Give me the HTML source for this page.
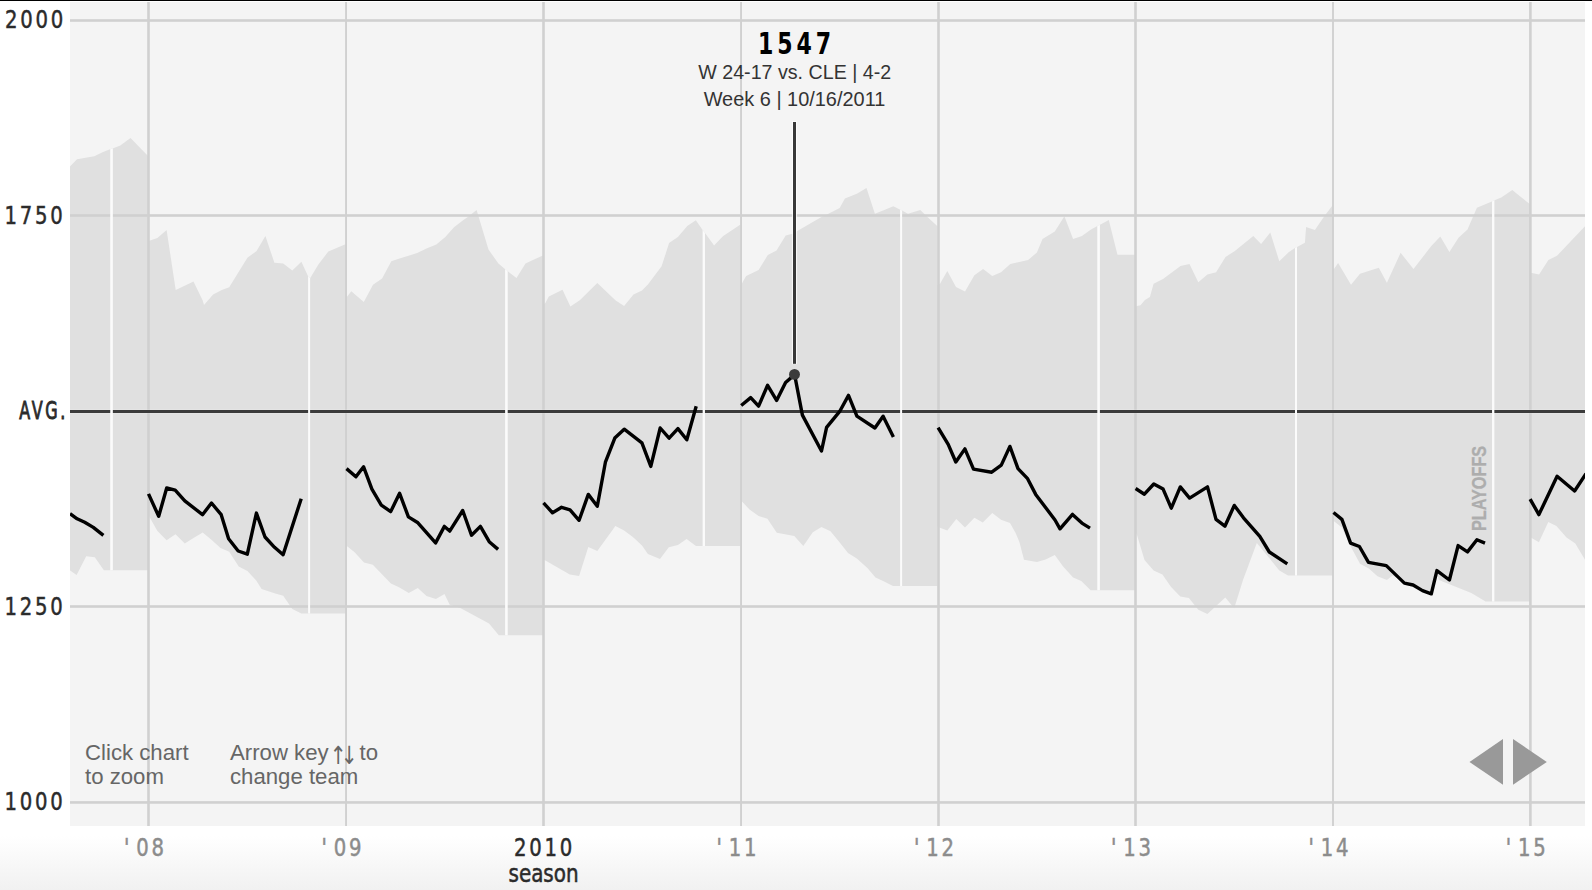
<!DOCTYPE html>
<html><head><meta charset="utf-8"><title>Elo chart</title>
<style>
html,body{margin:0;padding:0;background:#fff;}
body{width:1592px;height:890px;overflow:hidden;position:relative;}
svg{position:absolute;left:0;top:0;display:block;}
.mono{font-family:"DejaVu Sans Condensed","DejaVu Sans","Liberation Sans",sans-serif;font-stretch:condensed;}
.sans{font-family:"Liberation Sans","DejaVu Sans",sans-serif;}
</style></head>
<body>
<svg width="1592" height="890" viewBox="0 0 1592 890">
<defs>
<linearGradient id="fade" x1="0" y1="0" x2="0" y2="1"><stop offset="0" stop-color="#ffffff"/><stop offset="1" stop-color="#f1f1f1"/></linearGradient>
<clipPath id="chart"><rect x="70" y="2" width="1515" height="824"/></clipPath>
<clipPath id="c2007"><polygon points="70,166.4 77,159.3 94.3,156.3 103,151.9 110,149.3 113.2,148.2 120.3,145.6 130.5,138.1 148,156 148,570.3 103.9,570.3 94.8,557.2 86.2,556.2 76.6,574.9 70.5,570.8 70,570.5"/></clipPath><clipPath id="c2008"><polygon points="147.5,241 150.1,240.4 157.4,238.1 166.6,229.9 175.7,290 193.5,281.5 202.7,300.4 204,305.1 213.1,294.4 221.8,290 229.2,287.3 247.4,257.7 256.6,251 265.4,236.1 274.4,262.7 283.2,263.6 292.3,270.5 301.4,261.7 308.1,276.2 310.1,278.2 318.2,264.7 328.3,251.5 346,244 346,613.5 301.4,613.5 292.3,609.1 283.2,595.7 274.4,593.3 261.6,588.9 256.2,580.4 247.4,570.9 238.7,566.6 229.2,551.8 220.5,548.1 211.7,539.9 202.7,532.6 193.5,538 184.8,543.4 175.5,534.3 166.6,540.3 157.4,530.9 150.1,518.1 147.5,514"/></clipPath><clipPath id="c2009"><polygon points="345,297.5 346.8,296.9 351.3,291.3 363.8,301.9 373,284.8 382.1,278.5 391.3,261.3 400.3,258.3 417.1,253.1 426.5,248.5 436.3,244.5 445.3,237 454,227.3 463.4,220 467.1,217.5 476.6,210.1 478.7,216.9 488.5,249.5 498.4,263.5 504.6,268.8 507.8,271.3 516.5,278.1 525.5,263.5 534,259.4 543.5,255.3 543.5,635.2 498.8,635.2 489,623.6 460.3,607.9 449.7,604.8 444.5,594 435.9,599 426.5,596 417.8,588.1 408.8,593.1 399,587.3 390.9,583.5 372.8,564.8 364,562.5 354.6,552.3 346.8,546 345,545"/></clipPath><clipPath id="c2010"><polygon points="542.5,306 545.4,303.1 548.8,296.5 562.5,289.8 570.4,306.5 579.8,300.3 597.3,283.1 615.4,300.3 624.1,306 633.5,294.4 642,290.6 647.9,284.4 661.6,266.3 669.1,243.1 677.9,236.9 687.3,226 695.8,220.3 702.3,229.4 705,233.1 714.1,245.6 722.9,236.3 740.5,224.4 740.5,546 696,546 686.6,539 677.9,545 668.8,547.3 660,559 647.9,554 642,545.6 632.9,536.9 624.1,530.6 615.4,526 597.3,551 588.3,546.9 579.1,576 569.8,574.4 545.4,560.6 542.5,559"/></clipPath><clipPath id="c2011"><polygon points="740,285.5 741.8,283.8 746.1,276 758.6,270 767.8,255 776.5,250.6 785.7,235.4 792.5,233.7 796.4,231.5 820.6,217.4 827.9,214 839.7,208.1 844.9,198.5 856.8,193.8 866.5,188.1 874.9,213.8 884.3,210 893.3,206.3 899.9,209.4 902,210.6 908,213.8 920.3,210 928,217.5 937.5,226.3 937.5,586 893,586 883.6,581.3 875.5,577.5 867.4,568.1 856.8,558.5 848,553.1 839.3,541.9 830.5,531.3 821.5,526.9 812.8,532.3 803.3,546 794.3,536 776.8,532.8 767.4,518.8 758.6,516 749.5,509.4 742,501.5 740,499.5"/></clipPath><clipPath id="c2012"><polygon points="937,285 940,283.8 947.3,271 956,286.9 965,291.5 974.4,275.3 983.1,269 992.3,276 1001,272.3 1010.3,264 1028.1,260 1036.9,252.5 1042.5,239 1054.8,231.5 1064.4,216.3 1073.1,239 1081.9,236 1090.6,229.8 1097.3,226 1100,224.8 1108.8,220 1117.5,254.8 1135.5,254.8 1135.5,590.3 1090.6,590.3 1081.3,581 1073.1,577.5 1063.1,566.5 1054.8,555 1045.6,559.4 1036.9,561.9 1024,559.8 1019.4,541.9 1015.6,533.1 1010,523.1 1001,519.8 992.3,513.1 982.8,522.5 974.4,517.8 965,527.5 956.3,519 947.3,530.6 940,527.8 937,526.5"/></clipPath><clipPath id="c2013"><polygon points="1135,306.5 1137,306 1140.5,305.3 1144.9,300 1149.9,296.9 1153.6,283.8 1163,279 1180.5,266 1189.5,264 1198.3,282.3 1207.4,274.4 1216.1,272.3 1225.5,256.9 1234.5,251.3 1253.3,236 1261.1,244 1270.3,232.5 1279.3,261.3 1288.6,252.3 1294.9,248.1 1297,246.9 1304.9,242.8 1306.1,226.9 1314.9,230 1324.3,216.3 1332.8,205 1332.8,575.6 1288,575.6 1279.3,570.6 1269.9,558.8 1256.8,543.1 1243,580 1234.2,608.3 1225.3,597.4 1207.4,613.9 1198.3,609.8 1188.9,598 1180.3,596.4 1171.1,586.9 1162.4,574.4 1153.6,570.6 1144.5,560 1137,535 1135,532"/></clipPath><clipPath id="c2014"><polygon points="1332.2,269.5 1334,269 1338.1,263.1 1351,284.8 1360,273.8 1378.8,267.8 1386.9,282.8 1400.6,252.8 1413.5,269 1431.3,246 1440.3,236.5 1449.4,251.9 1458.5,237.8 1467.5,229.4 1476.9,207.8 1491.9,201.5 1494.4,200.3 1501.3,197.5 1512.3,190 1520,196.2 1530,204.2 1530,601.5 1485.6,601.5 1471.3,593.1 1458.8,588.1 1438.8,580 1436.9,572 1431.3,592.3 1422.5,589 1413.1,583.5 1404.4,581.5 1392.5,575.6 1386.9,580 1377.5,576.3 1368.8,568.5 1360,563.8 1350.6,546.3 1341.9,527.5 1334,521.3 1332.2,519.5"/></clipPath><clipPath id="c2015"><polygon points="1529.5,273 1532,273 1539.1,274.6 1548.4,260.1 1557,255.7 1574.3,237.5 1586,225.2 1586,561.5 1575.3,543.6 1566.5,537.5 1556.4,526.1 1548.3,522 1538.9,542.2 1532.1,538.2 1529.5,536.5"/></clipPath>
</defs>
<rect x="0" y="0" width="1592" height="1" fill="#000"/>
<rect x="0" y="836" width="1592" height="54" fill="url(#fade)"/>
<rect x="70" y="2" width="1515" height="824" fill="#f4f4f4"/>
<g clip-path="url(#chart)">
<g fill="#e0e0e0"><polygon points="70,166.4 77,159.3 94.3,156.3 103,151.9 110,149.3 113.2,148.2 120.3,145.6 130.5,138.1 148,156 148,570.3 103.9,570.3 94.8,557.2 86.2,556.2 76.6,574.9 70.5,570.8 70,570.5"/><polygon points="147.5,241 150.1,240.4 157.4,238.1 166.6,229.9 175.7,290 193.5,281.5 202.7,300.4 204,305.1 213.1,294.4 221.8,290 229.2,287.3 247.4,257.7 256.6,251 265.4,236.1 274.4,262.7 283.2,263.6 292.3,270.5 301.4,261.7 308.1,276.2 310.1,278.2 318.2,264.7 328.3,251.5 346,244 346,613.5 301.4,613.5 292.3,609.1 283.2,595.7 274.4,593.3 261.6,588.9 256.2,580.4 247.4,570.9 238.7,566.6 229.2,551.8 220.5,548.1 211.7,539.9 202.7,532.6 193.5,538 184.8,543.4 175.5,534.3 166.6,540.3 157.4,530.9 150.1,518.1 147.5,514"/><polygon points="345,297.5 346.8,296.9 351.3,291.3 363.8,301.9 373,284.8 382.1,278.5 391.3,261.3 400.3,258.3 417.1,253.1 426.5,248.5 436.3,244.5 445.3,237 454,227.3 463.4,220 467.1,217.5 476.6,210.1 478.7,216.9 488.5,249.5 498.4,263.5 504.6,268.8 507.8,271.3 516.5,278.1 525.5,263.5 534,259.4 543.5,255.3 543.5,635.2 498.8,635.2 489,623.6 460.3,607.9 449.7,604.8 444.5,594 435.9,599 426.5,596 417.8,588.1 408.8,593.1 399,587.3 390.9,583.5 372.8,564.8 364,562.5 354.6,552.3 346.8,546 345,545"/><polygon points="542.5,306 545.4,303.1 548.8,296.5 562.5,289.8 570.4,306.5 579.8,300.3 597.3,283.1 615.4,300.3 624.1,306 633.5,294.4 642,290.6 647.9,284.4 661.6,266.3 669.1,243.1 677.9,236.9 687.3,226 695.8,220.3 702.3,229.4 705,233.1 714.1,245.6 722.9,236.3 740.5,224.4 740.5,546 696,546 686.6,539 677.9,545 668.8,547.3 660,559 647.9,554 642,545.6 632.9,536.9 624.1,530.6 615.4,526 597.3,551 588.3,546.9 579.1,576 569.8,574.4 545.4,560.6 542.5,559"/><polygon points="740,285.5 741.8,283.8 746.1,276 758.6,270 767.8,255 776.5,250.6 785.7,235.4 792.5,233.7 796.4,231.5 820.6,217.4 827.9,214 839.7,208.1 844.9,198.5 856.8,193.8 866.5,188.1 874.9,213.8 884.3,210 893.3,206.3 899.9,209.4 902,210.6 908,213.8 920.3,210 928,217.5 937.5,226.3 937.5,586 893,586 883.6,581.3 875.5,577.5 867.4,568.1 856.8,558.5 848,553.1 839.3,541.9 830.5,531.3 821.5,526.9 812.8,532.3 803.3,546 794.3,536 776.8,532.8 767.4,518.8 758.6,516 749.5,509.4 742,501.5 740,499.5"/><polygon points="937,285 940,283.8 947.3,271 956,286.9 965,291.5 974.4,275.3 983.1,269 992.3,276 1001,272.3 1010.3,264 1028.1,260 1036.9,252.5 1042.5,239 1054.8,231.5 1064.4,216.3 1073.1,239 1081.9,236 1090.6,229.8 1097.3,226 1100,224.8 1108.8,220 1117.5,254.8 1135.5,254.8 1135.5,590.3 1090.6,590.3 1081.3,581 1073.1,577.5 1063.1,566.5 1054.8,555 1045.6,559.4 1036.9,561.9 1024,559.8 1019.4,541.9 1015.6,533.1 1010,523.1 1001,519.8 992.3,513.1 982.8,522.5 974.4,517.8 965,527.5 956.3,519 947.3,530.6 940,527.8 937,526.5"/><polygon points="1135,306.5 1137,306 1140.5,305.3 1144.9,300 1149.9,296.9 1153.6,283.8 1163,279 1180.5,266 1189.5,264 1198.3,282.3 1207.4,274.4 1216.1,272.3 1225.5,256.9 1234.5,251.3 1253.3,236 1261.1,244 1270.3,232.5 1279.3,261.3 1288.6,252.3 1294.9,248.1 1297,246.9 1304.9,242.8 1306.1,226.9 1314.9,230 1324.3,216.3 1332.8,205 1332.8,575.6 1288,575.6 1279.3,570.6 1269.9,558.8 1256.8,543.1 1243,580 1234.2,608.3 1225.3,597.4 1207.4,613.9 1198.3,609.8 1188.9,598 1180.3,596.4 1171.1,586.9 1162.4,574.4 1153.6,570.6 1144.5,560 1137,535 1135,532"/><polygon points="1332.2,269.5 1334,269 1338.1,263.1 1351,284.8 1360,273.8 1378.8,267.8 1386.9,282.8 1400.6,252.8 1413.5,269 1431.3,246 1440.3,236.5 1449.4,251.9 1458.5,237.8 1467.5,229.4 1476.9,207.8 1491.9,201.5 1494.4,200.3 1501.3,197.5 1512.3,190 1520,196.2 1530,204.2 1530,601.5 1485.6,601.5 1471.3,593.1 1458.8,588.1 1438.8,580 1436.9,572 1431.3,592.3 1422.5,589 1413.1,583.5 1404.4,581.5 1392.5,575.6 1386.9,580 1377.5,576.3 1368.8,568.5 1360,563.8 1350.6,546.3 1341.9,527.5 1334,521.3 1332.2,519.5"/><polygon points="1529.5,273 1532,273 1539.1,274.6 1548.4,260.1 1557,255.7 1574.3,237.5 1586,225.2 1586,561.5 1575.3,543.6 1566.5,537.5 1556.4,526.1 1548.3,522 1538.9,542.2 1532.1,538.2 1529.5,536.5"/></g>
<g fill="#d0d0d0"><rect x="147.2" y="2" width="2.6" height="824"/><rect x="345.1" y="2" width="1.9" height="824"/><rect x="542.2" y="2" width="2.6" height="824"/><rect x="740.1" y="2" width="1.9" height="824"/><rect x="937.2" y="2" width="2.6" height="824"/><rect x="1134.2" y="2" width="2.6" height="824"/><rect x="1332.05" y="2" width="1.9" height="824"/><rect x="1529.1" y="2" width="2.6" height="824"/><rect x="70" y="19.2" width="1515" height="2.6"/><rect x="70" y="214.2" width="1515" height="2.6"/><rect x="70" y="605.2" width="1515" height="2.6"/><rect x="70" y="801.15" width="1515" height="2.6"/></g>
<rect x="70" y="409" width="1515" height="5" fill="#fff" fill-opacity="0.15"/>
<rect x="70" y="410" width="1515" height="3" fill="#3b3b3b"/>
<g fill="#fbfbfb"><rect x="110.25" y="0" width="2.6" height="890" clip-path="url(#c2007)"/><rect x="308.1" y="0" width="2" height="890" clip-path="url(#c2008)"/><rect x="505.1" y="0" width="2.6" height="890" clip-path="url(#c2009)"/><rect x="702.65" y="0" width="2.3" height="890" clip-path="url(#c2010)"/><rect x="900.1" y="0" width="2" height="890" clip-path="url(#c2011)"/><rect x="1097.3" y="0" width="2.6" height="890" clip-path="url(#c2012)"/><rect x="1295" y="0" width="2" height="890" clip-path="url(#c2013)"/><rect x="1492.05" y="0" width="2.3" height="890" clip-path="url(#c2014)"/></g>
<g fill="none" stroke="#000" stroke-width="3.4" stroke-linejoin="round"><polyline points="70,513.7 77.1,518.8 84.7,522.3 93.3,527.4 103.4,535.4"/><polyline points="148.5,493.9 158.7,516.3 166.7,488 175.2,490.1 184.8,500.8 202.5,514.7 211.5,503 221.2,514.7 228.6,538.7 238.2,551 247.3,554.2 256.4,513.1 265,537 274.5,547.3 283.1,554.7 301.2,498.7"/><polyline points="346.5,468.6 355.9,476.8 363.6,466.8 371.9,489.2 381.3,505.1 390.7,511.6 399.6,493.3 408.4,516.9 417.9,522.8 435.6,542.9 444.4,526.4 449.7,531.1 462.7,510.5 471.5,535.2 480.4,526.4 489.2,541.7 498.1,549.4"/><polyline points="543.5,502.8 552.5,512.8 561.6,507.3 570,509.8 579.1,520.3 588.3,494.4 597.3,506.3 605.4,462.2 614.8,438.1 624.2,429.2 641.9,442.8 650.8,466.4 660.2,428 669.1,438.1 677.9,428.6 686.8,439.8 696.2,406.2"/><polyline points="741.2,405.5 750.7,397.6 758.6,406.1 767.6,385.3 776.6,400.4 785.6,382.5 794.6,374.6 802.4,415.1 821.5,451 826.6,427.4 839.5,411.7 848.5,395.4 856.9,416.2 874.9,428 883.1,416.2 893.4,437"/><polyline points="938.1,427.6 948.2,444.3 955.8,462 964.9,448.9 973.5,469.1 991.7,472.2 1001.3,465.1 1009.9,446.4 1018,468.6 1027.6,478.7 1035.7,494.4 1055,520 1060,528.8 1072.5,514.4 1081.9,523.1 1090,528.1"/><polyline points="1135.6,488.5 1144.4,494.2 1153.8,484 1163.1,489.1 1171.3,508.2 1180.3,486.9 1189.6,498.1 1207.5,486.9 1216,519.4 1224.9,526.2 1234.3,505.4 1243.5,517.8 1259.8,536.3 1269.3,552 1287.3,563.8"/><polyline points="1333.5,512.5 1341.9,519.4 1350.6,543.1 1359.4,546.5 1368.5,562.3 1386.3,565.6 1404.4,583.1 1413.1,585 1422.5,590.6 1431.3,593.8 1436.9,570.6 1449.4,580 1458.1,545.6 1467.5,551.9 1476.9,539.8 1485,543.1"/><polyline points="1530.1,499.1 1538.9,514.6 1557.1,476.2 1574.6,491 1586,473.6"/></g>
<rect x="791.9" y="121" width="5.2" height="243.2" fill="#fff" fill-opacity="0.75"/>
<rect x="793" y="122" width="3" height="241.8" fill="#383838"/>
<circle cx="794.5" cy="374.4" r="5.45" fill="#3b3b3b"/>
<text class="sans" transform="translate(1479.1,488.45) rotate(-90) scale(0.835,1)" font-size="19.5" font-weight="bold" fill="#adadad" stroke="#adadad" stroke-width="0.3" text-anchor="middle" dominant-baseline="central">PLAYOFFS</text>
</g>
<text class="mono" transform="translate(5,28) scale(0.86,1)" font-size="25.4" letter-spacing="3.2" font-weight="normal" fill="#2b2b2b" stroke="#2b2b2b" stroke-width="0.5">2000</text>
<text class="mono" transform="translate(4.5,224) scale(0.86,1)" font-size="25.4" letter-spacing="3.2" font-weight="normal" fill="#2b2b2b" stroke="#2b2b2b" stroke-width="0.5">1750</text>
<text class="mono" transform="translate(19.3,419) scale(0.7,1)" font-size="25.4" letter-spacing="3.7" font-weight="normal" fill="#2b2b2b" stroke="#2b2b2b" stroke-width="0.9">AVG.</text>
<text class="mono" transform="translate(4.5,614.9) scale(0.86,1)" font-size="25.4" letter-spacing="3.2" font-weight="normal" fill="#2b2b2b" stroke="#2b2b2b" stroke-width="0.5">1250</text>
<text class="mono" transform="translate(4.5,810) scale(0.86,1)" font-size="25.4" letter-spacing="3.2" font-weight="normal" fill="#2b2b2b" stroke="#2b2b2b" stroke-width="0.5">1000</text>
<text class="mono" transform="translate(123.9,856) scale(0.86,1)" font-size="25.4" letter-spacing="3.2" font-weight="normal" fill="#8c8c8c" stroke="#8c8c8c" stroke-width="0.5">&#39;</text>
<text class="mono" transform="translate(136.2,856) scale(0.86,1)" font-size="25.4" letter-spacing="3.2" font-weight="normal" fill="#8c8c8c" stroke="#8c8c8c" stroke-width="0.5">08</text>
<text class="mono" transform="translate(321.45,856) scale(0.86,1)" font-size="25.4" letter-spacing="3.2" font-weight="normal" fill="#8c8c8c" stroke="#8c8c8c" stroke-width="0.5">&#39;</text>
<text class="mono" transform="translate(333.75,856) scale(0.86,1)" font-size="25.4" letter-spacing="3.2" font-weight="normal" fill="#8c8c8c" stroke="#8c8c8c" stroke-width="0.5">09</text>
<text class="mono" transform="translate(514,856) scale(0.86,1)" font-size="25.4" letter-spacing="3.2" font-weight="normal" fill="#2b2b2b" stroke="#2b2b2b" stroke-width="0.5">2010</text>
<text class="mono" transform="translate(716.45,856) scale(0.86,1)" font-size="25.4" letter-spacing="3.2" font-weight="normal" fill="#8c8c8c" stroke="#8c8c8c" stroke-width="0.5">&#39;</text>
<text class="mono" transform="translate(728.75,856) scale(0.86,1)" font-size="25.4" letter-spacing="3.2" font-weight="normal" fill="#8c8c8c" stroke="#8c8c8c" stroke-width="0.5">11</text>
<text class="mono" transform="translate(913.9,856) scale(0.86,1)" font-size="25.4" letter-spacing="3.2" font-weight="normal" fill="#8c8c8c" stroke="#8c8c8c" stroke-width="0.5">&#39;</text>
<text class="mono" transform="translate(926.2,856) scale(0.86,1)" font-size="25.4" letter-spacing="3.2" font-weight="normal" fill="#8c8c8c" stroke="#8c8c8c" stroke-width="0.5">12</text>
<text class="mono" transform="translate(1110.9,856) scale(0.86,1)" font-size="25.4" letter-spacing="3.2" font-weight="normal" fill="#8c8c8c" stroke="#8c8c8c" stroke-width="0.5">&#39;</text>
<text class="mono" transform="translate(1123.2,856) scale(0.86,1)" font-size="25.4" letter-spacing="3.2" font-weight="normal" fill="#8c8c8c" stroke="#8c8c8c" stroke-width="0.5">13</text>
<text class="mono" transform="translate(1308.4,856) scale(0.86,1)" font-size="25.4" letter-spacing="3.2" font-weight="normal" fill="#8c8c8c" stroke="#8c8c8c" stroke-width="0.5">&#39;</text>
<text class="mono" transform="translate(1320.7,856) scale(0.86,1)" font-size="25.4" letter-spacing="3.2" font-weight="normal" fill="#8c8c8c" stroke="#8c8c8c" stroke-width="0.5">14</text>
<text class="mono" transform="translate(1505.8,856) scale(0.86,1)" font-size="25.4" letter-spacing="3.2" font-weight="normal" fill="#8c8c8c" stroke="#8c8c8c" stroke-width="0.5">&#39;</text>
<text class="mono" transform="translate(1518.1,856) scale(0.86,1)" font-size="25.4" letter-spacing="3.2" font-weight="normal" fill="#8c8c8c" stroke="#8c8c8c" stroke-width="0.5">15</text>
<text class="mono" transform="translate(508.5,882) scale(0.897,1)" font-size="24.7" letter-spacing="0" font-weight="normal" fill="#2b2b2b" stroke="#2b2b2b" stroke-width="0.5">season</text>
<text class="mono" transform="translate(758,53.8) scale(0.79,1)" font-size="31" letter-spacing="4.95" font-weight="bold" fill="#000" stroke="#000" stroke-width="0">1547</text>
<g class="sans" font-size="20.3" fill="#333" text-anchor="middle">
<text transform="translate(794.7,78.8) scale(0.968,1)">W 24-17 vs. CLE | 4-2</text>
<text transform="translate(794.5,105.5) scale(0.982,1)">Week 6 | 10/16/2011</text>
</g>
<g class="sans" font-size="22.2" fill="#666">
<text x="85" y="760">Click chart</text>
<text x="85" y="784">to zoom</text>
<text x="230" y="760">Arrow key</text><text x="359.5" y="760">to</text><text transform="translate(330.1,764.2) scale(0.8,1)" font-family="DejaVu Sans,Liberation Sans,sans-serif" font-size="25" letter-spacing="-7.3">↑↓</text>
<text x="230" y="784">change team</text>
</g>
<g fill="#999">
<polygon points="1503,739 1503,784.7 1469.5,762"/>
<polygon points="1513,739 1513,784.7 1546.8,762"/>
</g>
</svg>
</body></html>
